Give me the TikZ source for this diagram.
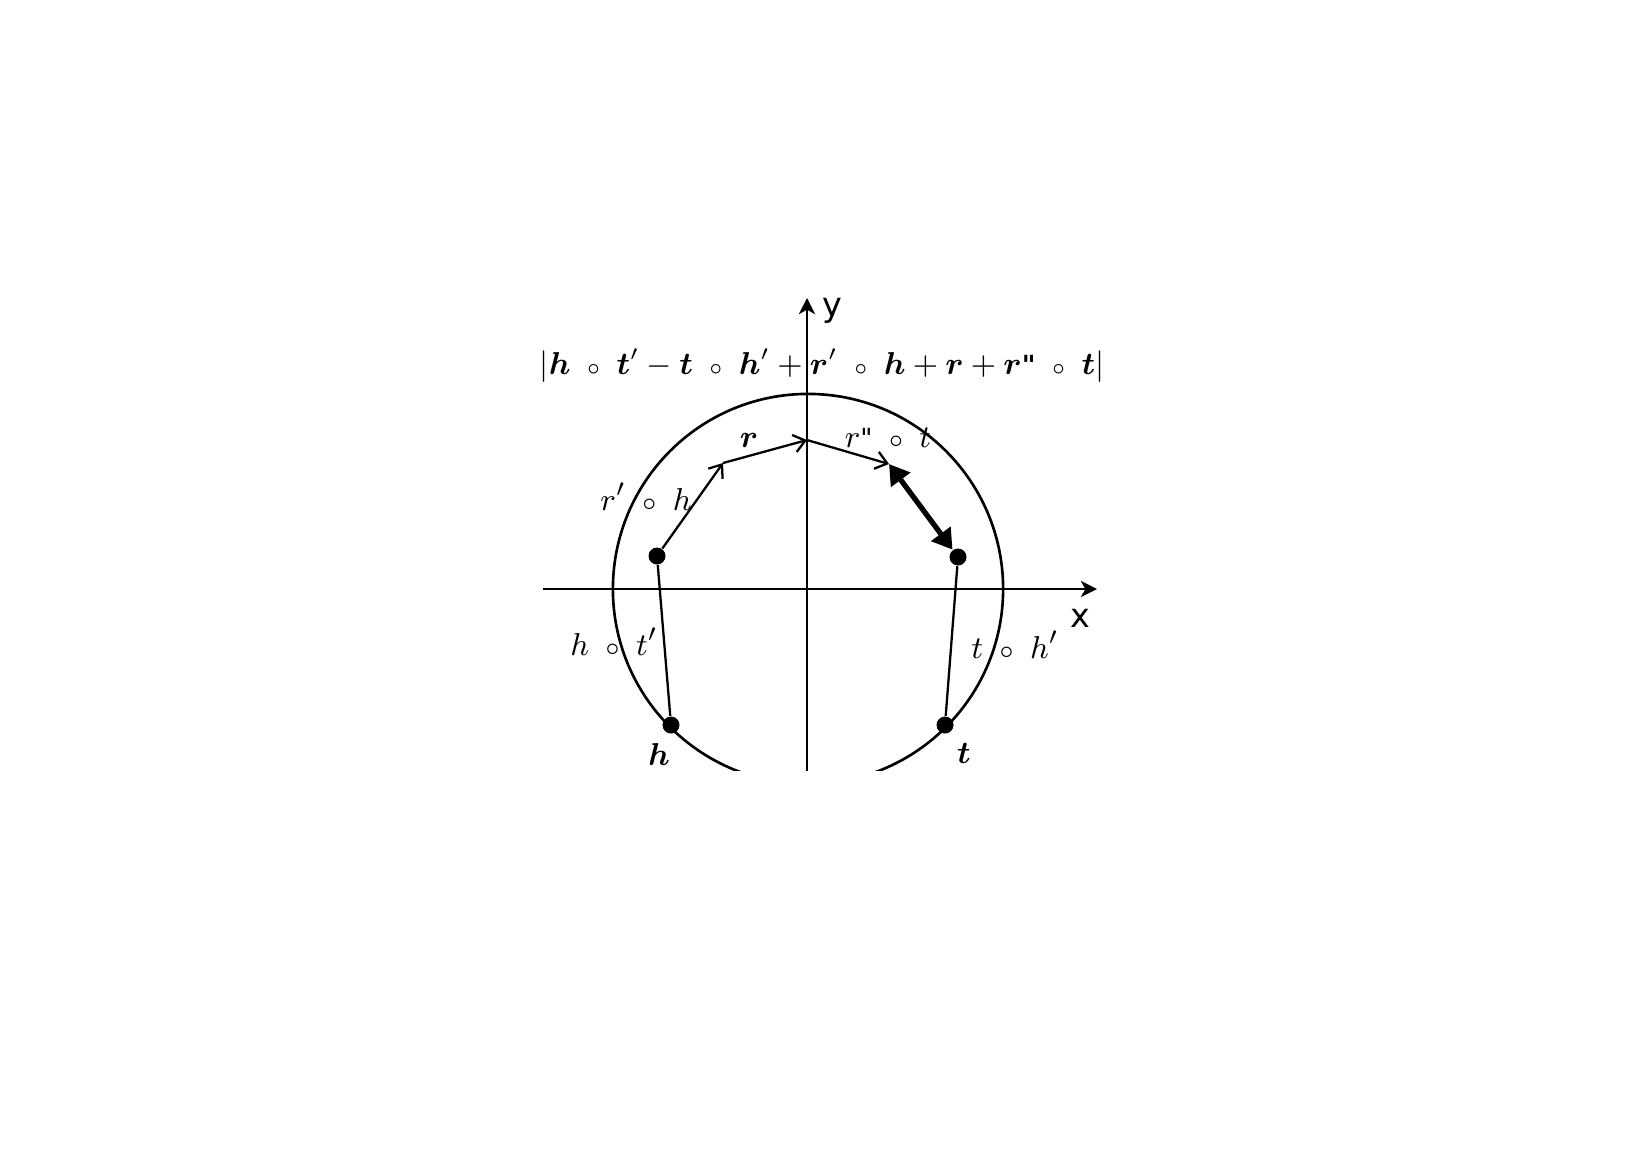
\documentclass[tikz,border=0pt]{standalone}
\usepackage{amsmath,bm}
\usepackage{fontspec}
\newfontfamily\dejavu{DejaVu Sans}
\usetikzlibrary{arrows.meta}
\newcommand{\sop}{\mathbin{\;{\scriptstyle\circ}\;}}
\newcommand{\dq}{\mbox{\dejavu\fontsize{7.5}{9}\selectfont\char"22}}
\newcommand{\bdq}{\mbox{\dejavu\bfseries\fontsize{7.5}{9}\selectfont\char"22}}
\tikzset{
  dotnode/.style={circle,fill=black,inner sep=0pt,minimum size=0.17cm},
  axisline/.style={line width=0.65pt,-{Stealth[length=4.6pt,width=4.6pt,inset=1.3pt]}},
  seg/.style={line width=0.65pt,-{Straight Barb[length=3.2pt,width=5pt]}},
  plainseg/.style={line width=0.65pt},
  thickarrow/.style={line width=1.5pt,{Triangle[length=5.6pt,width=6.6pt]}-{Triangle[length=5.6pt,width=6.6pt]}},
  lbl/.style={inner sep=0pt,anchor=base,font=\fontsize{9.3}{11}\selectfont},
  flbl/.style={inner sep=0pt,anchor=base,font=\fontsize{8.7}{11}\selectfont},
  axlbl/.style={inner sep=0pt,font=\dejavu\fontsize{9.5}{11}\selectfont}
}
\begin{document}
\begin{tikzpicture}[x=0.01cm,y=-0.01cm]
\useasboundingbox (0,0) rectangle (1640,1159);
\begin{scope}
\clip (520,280) rectangle (1120,770);
\node[circle,draw,line width=0.75pt,minimum size=3.9cm,inner sep=0pt] (circ) at (808,589) {};
\coordinate (xs) at (543,589);
\coordinate (xe) at (1097,589);
\coordinate (ys) at (807,790);
\coordinate (ye) at (807,298);
\draw[axisline] (xs) -- (xe);
\draw[axisline] (ys) -- (ye);
\node[dotnode] (A) at (657,556) {};
\node[dotnode] (B) at (958,557) {};
\node[dotnode] (H) at (671,725) {};
\node[dotnode] (T) at (945,725) {};
\coordinate (p1) at (723,463);
\coordinate (p2) at (807,440);
\coordinate (p3) at (889,464);
\draw[plainseg] (A) -- (H);
\draw[plainseg] (B) -- (T);
\draw[seg] (A) -- (p1);
\draw[seg] (p1) -- (p2);
\draw[seg] (p2) -- (p3);
\draw[thickarrow] (p3) -- (B);
\node[flbl] (formula) at (822,374) {$|\bm{h}\sop\bm{t}'-\bm{t}\sop\bm{h}'+\bm{r}'\sop\bm{h}+\bm{r}+\bm{r}\bdq\sop\bm{t}|$};
\node[axlbl] (ylab) at (832,311) {y};
\node[axlbl] (xlab) at (1080,618) {x};
\node[lbl] (rl) at (749,447) {$\bm{r}$};
\node[lbl] (rtl) at (888,447) {$r\dq\sop t$};
\node[lbl] (rhl) at (646,510) {$r'\sop h$};
\node[lbl] (htl) at (614,655) {$h\sop t'$};
\node[lbl] (thl) at (1015,658) {$t\sop h'$};
\node[lbl] (hl) at (659,765) {$\bm{h}$};
\node[lbl] (tl) at (964,763) {$\bm{t}$};
\end{scope}
\end{tikzpicture}
\end{document}
